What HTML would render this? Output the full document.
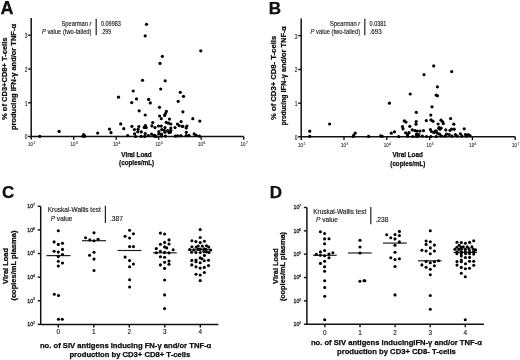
<!DOCTYPE html>
<html><head><meta charset="utf-8"><style>
html,body{margin:0;padding:0;background:#fff;}
svg{display:block;font-family:"Liberation Sans", sans-serif;filter:grayscale(1);}
text{fill:#111;}
</style></head><body>
<svg width="520" height="360" viewBox="0 0 520 360">
<rect width="520" height="360" fill="#fff"/>
<line x1="31.2" y1="18" x2="31.2" y2="139.6" stroke="#111" stroke-width="1.5"/>
<line x1="28.2" y1="136.4" x2="243.7" y2="136.4" stroke="#111" stroke-width="1.5"/>
<line x1="28.2" y1="35.2" x2="31.2" y2="35.2" stroke="#111" stroke-width="1.4"/>
<line x1="28.2" y1="69.1" x2="31.2" y2="69.1" stroke="#111" stroke-width="1.4"/>
<line x1="28.2" y1="102.8" x2="31.2" y2="102.8" stroke="#111" stroke-width="1.4"/>
<line x1="73.7" y1="136.4" x2="73.7" y2="139.7" stroke="#111" stroke-width="1.4"/>
<line x1="116.2" y1="136.4" x2="116.2" y2="139.7" stroke="#111" stroke-width="1.4"/>
<line x1="158.7" y1="136.4" x2="158.7" y2="139.7" stroke="#111" stroke-width="1.4"/>
<line x1="201.2" y1="136.4" x2="201.2" y2="139.7" stroke="#111" stroke-width="1.4"/>
<line x1="243.7" y1="136.4" x2="243.7" y2="139.7" stroke="#111" stroke-width="1.4"/>
<g transform="translate(27.4 38.1) scale(0.25)"><text x="0" y="0" font-size="25.20" text-anchor="end" textLength="10.80" lengthAdjust="spacingAndGlyphs" fill="#333" stroke="#333" stroke-width="0.60">3</text></g>
<g transform="translate(27.4 72.0) scale(0.25)"><text x="0" y="0" font-size="25.20" text-anchor="end" textLength="10.80" lengthAdjust="spacingAndGlyphs" fill="#333" stroke="#333" stroke-width="0.60">2</text></g>
<g transform="translate(27.4 105.7) scale(0.25)"><text x="0" y="0" font-size="25.20" text-anchor="end" textLength="10.80" lengthAdjust="spacingAndGlyphs" fill="#333" stroke="#333" stroke-width="0.60">1</text></g>
<g transform="translate(27.4 139.3) scale(0.25)"><text x="0" y="0" font-size="25.20" text-anchor="end" textLength="10.80" lengthAdjust="spacingAndGlyphs" fill="#333" stroke="#333" stroke-width="0.60">0</text></g>
<g transform="translate(28.1 146.1) scale(0.25)"><text x="0" y="0" font-size="24.00" textLength="20.00" lengthAdjust="spacingAndGlyphs" fill="#555" stroke="#555" stroke-width="0.48">10</text></g>
<g transform="translate(33.4 144.1) scale(0.25)"><text x="0" y="0" font-size="13.20" fill="#555" stroke="#555" stroke-width="0.34">2</text></g>
<g transform="translate(70.6 146.1) scale(0.25)"><text x="0" y="0" font-size="24.00" textLength="20.00" lengthAdjust="spacingAndGlyphs" fill="#555" stroke="#555" stroke-width="0.48">10</text></g>
<g transform="translate(75.9 144.1) scale(0.25)"><text x="0" y="0" font-size="13.20" fill="#555" stroke="#555" stroke-width="0.34">3</text></g>
<g transform="translate(113.1 146.1) scale(0.25)"><text x="0" y="0" font-size="24.00" textLength="20.00" lengthAdjust="spacingAndGlyphs" fill="#555" stroke="#555" stroke-width="0.48">10</text></g>
<g transform="translate(118.4 144.1) scale(0.25)"><text x="0" y="0" font-size="13.20" fill="#555" stroke="#555" stroke-width="0.34">4</text></g>
<g transform="translate(155.6 146.1) scale(0.25)"><text x="0" y="0" font-size="24.00" textLength="20.00" lengthAdjust="spacingAndGlyphs" fill="#555" stroke="#555" stroke-width="0.48">10</text></g>
<g transform="translate(160.9 144.1) scale(0.25)"><text x="0" y="0" font-size="13.20" fill="#555" stroke="#555" stroke-width="0.34">5</text></g>
<g transform="translate(198.1 146.1) scale(0.25)"><text x="0" y="0" font-size="24.00" textLength="20.00" lengthAdjust="spacingAndGlyphs" fill="#555" stroke="#555" stroke-width="0.48">10</text></g>
<g transform="translate(203.4 144.1) scale(0.25)"><text x="0" y="0" font-size="13.20" fill="#555" stroke="#555" stroke-width="0.34">6</text></g>
<g transform="translate(240.6 146.1) scale(0.25)"><text x="0" y="0" font-size="24.00" textLength="20.00" lengthAdjust="spacingAndGlyphs" fill="#555" stroke="#555" stroke-width="0.48">10</text></g>
<g transform="translate(245.9 144.1) scale(0.25)"><text x="0" y="0" font-size="13.20" fill="#555" stroke="#555" stroke-width="0.34">7</text></g>
<line x1="301.2" y1="18.4" x2="301.2" y2="140.0" stroke="#111" stroke-width="1.5"/>
<line x1="298.2" y1="136.8" x2="515.2" y2="136.8" stroke="#111" stroke-width="1.5"/>
<line x1="298.2" y1="35.6" x2="301.2" y2="35.6" stroke="#111" stroke-width="1.4"/>
<line x1="298.2" y1="69.5" x2="301.2" y2="69.5" stroke="#111" stroke-width="1.4"/>
<line x1="298.2" y1="103.2" x2="301.2" y2="103.2" stroke="#111" stroke-width="1.4"/>
<line x1="344.0" y1="136.8" x2="344.0" y2="140.1" stroke="#111" stroke-width="1.4"/>
<line x1="386.8" y1="136.8" x2="386.8" y2="140.1" stroke="#111" stroke-width="1.4"/>
<line x1="429.59999999999997" y1="136.8" x2="429.59999999999997" y2="140.1" stroke="#111" stroke-width="1.4"/>
<line x1="472.4" y1="136.8" x2="472.4" y2="140.1" stroke="#111" stroke-width="1.4"/>
<line x1="515.2" y1="136.8" x2="515.2" y2="140.1" stroke="#111" stroke-width="1.4"/>
<g transform="translate(297.4 38.5) scale(0.25)"><text x="0" y="0" font-size="25.20" text-anchor="end" textLength="10.80" lengthAdjust="spacingAndGlyphs" fill="#333" stroke="#333" stroke-width="0.60">3</text></g>
<g transform="translate(297.4 72.4) scale(0.25)"><text x="0" y="0" font-size="25.20" text-anchor="end" textLength="10.80" lengthAdjust="spacingAndGlyphs" fill="#333" stroke="#333" stroke-width="0.60">2</text></g>
<g transform="translate(297.4 106.1) scale(0.25)"><text x="0" y="0" font-size="25.20" text-anchor="end" textLength="10.80" lengthAdjust="spacingAndGlyphs" fill="#333" stroke="#333" stroke-width="0.60">1</text></g>
<g transform="translate(297.4 139.7) scale(0.25)"><text x="0" y="0" font-size="25.20" text-anchor="end" textLength="10.80" lengthAdjust="spacingAndGlyphs" fill="#333" stroke="#333" stroke-width="0.60">0</text></g>
<g transform="translate(298.1 146.5) scale(0.25)"><text x="0" y="0" font-size="24.00" textLength="20.00" lengthAdjust="spacingAndGlyphs" fill="#555" stroke="#555" stroke-width="0.48">10</text></g>
<g transform="translate(303.4 144.5) scale(0.25)"><text x="0" y="0" font-size="13.20" fill="#555" stroke="#555" stroke-width="0.34">2</text></g>
<g transform="translate(340.9 146.5) scale(0.25)"><text x="0" y="0" font-size="24.00" textLength="20.00" lengthAdjust="spacingAndGlyphs" fill="#555" stroke="#555" stroke-width="0.48">10</text></g>
<g transform="translate(346.2 144.5) scale(0.25)"><text x="0" y="0" font-size="13.20" fill="#555" stroke="#555" stroke-width="0.34">3</text></g>
<g transform="translate(383.7 146.5) scale(0.25)"><text x="0" y="0" font-size="24.00" textLength="20.00" lengthAdjust="spacingAndGlyphs" fill="#555" stroke="#555" stroke-width="0.48">10</text></g>
<g transform="translate(389.0 144.5) scale(0.25)"><text x="0" y="0" font-size="13.20" fill="#555" stroke="#555" stroke-width="0.34">4</text></g>
<g transform="translate(426.5 146.5) scale(0.25)"><text x="0" y="0" font-size="24.00" textLength="20.00" lengthAdjust="spacingAndGlyphs" fill="#555" stroke="#555" stroke-width="0.48">10</text></g>
<g transform="translate(431.8 144.5) scale(0.25)"><text x="0" y="0" font-size="13.20" fill="#555" stroke="#555" stroke-width="0.34">5</text></g>
<g transform="translate(469.3 146.5) scale(0.25)"><text x="0" y="0" font-size="24.00" textLength="20.00" lengthAdjust="spacingAndGlyphs" fill="#555" stroke="#555" stroke-width="0.48">10</text></g>
<g transform="translate(474.6 144.5) scale(0.25)"><text x="0" y="0" font-size="13.20" fill="#555" stroke="#555" stroke-width="0.34">6</text></g>
<g transform="translate(512.1 146.5) scale(0.25)"><text x="0" y="0" font-size="24.00" textLength="20.00" lengthAdjust="spacingAndGlyphs" fill="#555" stroke="#555" stroke-width="0.48">10</text></g>
<g transform="translate(517.4 144.5) scale(0.25)"><text x="0" y="0" font-size="13.20" fill="#555" stroke="#555" stroke-width="0.34">7</text></g>
<g transform="translate(0.5 13.9) scale(0.25)"><text x="0" y="0" font-size="72.00" font-weight="bold" fill="#000" stroke="#000" stroke-width="1.00">A</text></g>
<g transform="translate(268.8 13.7) scale(0.25)"><text x="0" y="0" font-size="68.00" font-weight="bold" fill="#000" stroke="#000" stroke-width="1.00">B</text></g>
<g transform="translate(7.3 120) rotate(-90) scale(0.25)"><text x="0" y="0" font-size="30.00" font-weight="bold" textLength="330.00" lengthAdjust="spacingAndGlyphs" fill="#000" stroke="#000" stroke-width="1.00">% of CD3+CD8+ T-cells</text></g>
<g transform="translate(16.1 130) rotate(-90) scale(0.25)"><text x="0" y="0" font-size="30.00" font-weight="bold" textLength="424.00" lengthAdjust="spacingAndGlyphs" fill="#000" stroke="#000" stroke-width="1.00">producing IFN-γ and/or TNF-α</text></g>
<g transform="translate(276.0 120) rotate(-90) scale(0.25)"><text x="0" y="0" font-size="30.00" font-weight="bold" textLength="336.80" lengthAdjust="spacingAndGlyphs" fill="#000" stroke="#000" stroke-width="1.00">% of CD3+ CD8- T-cells</text></g>
<g transform="translate(285.8 125.2) rotate(-90) scale(0.25)"><text x="0" y="0" font-size="28.80" font-weight="bold" textLength="122.00" lengthAdjust="spacingAndGlyphs" fill="#000" stroke="#000" stroke-width="1.00">producing</text></g>
<g transform="translate(286.0 92.6) rotate(-90) scale(0.25)"><text x="0" y="0" font-size="30.40" font-weight="bold" textLength="266.00" lengthAdjust="spacingAndGlyphs" fill="#000" stroke="#000" stroke-width="1.00">IFN-γ and/or TNF-α</text></g>
<g transform="translate(121.3 156.8) scale(0.25)"><text x="0" y="0" font-size="30.00" font-weight="bold" textLength="121.20" lengthAdjust="spacingAndGlyphs" fill="#000" stroke="#000" stroke-width="1.00">Viral Load</text></g>
<g transform="translate(119.1 165.1) scale(0.25)"><text x="0" y="0" font-size="30.00" font-weight="bold" textLength="140.40" lengthAdjust="spacingAndGlyphs" fill="#000" stroke="#000" stroke-width="1.00">(copies/mL)</text></g>
<g transform="translate(392.5 157.3) scale(0.25)"><text x="0" y="0" font-size="30.00" font-weight="bold" textLength="121.20" lengthAdjust="spacingAndGlyphs" fill="#000" stroke="#000" stroke-width="1.00">Viral Load</text></g>
<g transform="translate(390.29999999999995 165.6) scale(0.25)"><text x="0" y="0" font-size="30.00" font-weight="bold" textLength="140.40" lengthAdjust="spacingAndGlyphs" fill="#000" stroke="#000" stroke-width="1.00">(copies/mL)</text></g>
<g transform="translate(91.5 25.5) scale(0.25)"><text x="0" y="0" font-size="27.20" text-anchor="end" textLength="120.00" lengthAdjust="spacingAndGlyphs" fill="#333" stroke="#333" stroke-width="0.60">Spearman <tspan font-style="italic">r</tspan></text></g>
<g transform="translate(91.5 34.0) scale(0.25)"><text x="0" y="0" font-size="27.20" text-anchor="end" textLength="198.00" lengthAdjust="spacingAndGlyphs" fill="#333" stroke="#333" stroke-width="0.60"><tspan font-style="italic">P</tspan> value (two-tailed)</text></g>
<line x1="96.2" y1="18.8" x2="96.2" y2="35.3" stroke="#222" stroke-width="1.2"/>
<g transform="translate(101 25.5) scale(0.25)"><text x="0" y="0" font-size="27.20" textLength="79.20" lengthAdjust="spacingAndGlyphs" fill="#333" stroke="#333" stroke-width="0.60">0.09983</text></g>
<g transform="translate(101 34.0) scale(0.25)"><text x="0" y="0" font-size="27.20" textLength="40.00" lengthAdjust="spacingAndGlyphs" fill="#333" stroke="#333" stroke-width="0.60">.299</text></g>
<g transform="translate(360.1 25.5) scale(0.25)"><text x="0" y="0" font-size="27.20" text-anchor="end" textLength="120.00" lengthAdjust="spacingAndGlyphs" fill="#333" stroke="#333" stroke-width="0.60">Spearman <tspan font-style="italic">r</tspan></text></g>
<g transform="translate(360.1 34.0) scale(0.25)"><text x="0" y="0" font-size="27.20" text-anchor="end" textLength="198.00" lengthAdjust="spacingAndGlyphs" fill="#333" stroke="#333" stroke-width="0.60"><tspan font-style="italic">P</tspan> value (two-tailed)</text></g>
<line x1="364.8" y1="18.8" x2="364.8" y2="35.3" stroke="#222" stroke-width="1.2"/>
<g transform="translate(369.6 25.5) scale(0.25)"><text x="0" y="0" font-size="27.20" textLength="67.20" lengthAdjust="spacingAndGlyphs" fill="#333" stroke="#333" stroke-width="0.60">0.0381</text></g>
<g transform="translate(369.6 34.0) scale(0.25)"><text x="0" y="0" font-size="27.20" textLength="48.00" lengthAdjust="spacingAndGlyphs" fill="#333" stroke="#333" stroke-width="0.60">.693</text></g>
<line x1="40.7" y1="206.3" x2="40.7" y2="325.0" stroke="#111" stroke-width="1.5"/>
<line x1="40.7" y1="324.4" x2="218.4" y2="324.4" stroke="#111" stroke-width="1.5"/>
<line x1="37.7" y1="206.3" x2="40.7" y2="206.3" stroke="#111" stroke-width="1.4"/>
<g transform="translate(27.3 208.20000000000002) scale(0.25)"><text x="0" y="0" font-size="24.00" textLength="23.20" lengthAdjust="spacingAndGlyphs" fill="#222" stroke="#222" stroke-width="1.20">10</text></g>
<g transform="translate(32.9 206.0) scale(0.25)"><text x="0" y="0" font-size="14.00" fill="#222" stroke="#222" stroke-width="0.84">7</text></g>
<line x1="37.7" y1="229.92000000000002" x2="40.7" y2="229.92000000000002" stroke="#111" stroke-width="1.4"/>
<g transform="translate(27.3 231.82000000000002) scale(0.25)"><text x="0" y="0" font-size="24.00" textLength="23.20" lengthAdjust="spacingAndGlyphs" fill="#222" stroke="#222" stroke-width="1.20">10</text></g>
<g transform="translate(32.9 229.62) scale(0.25)"><text x="0" y="0" font-size="14.00" fill="#222" stroke="#222" stroke-width="0.84">6</text></g>
<line x1="37.7" y1="253.54" x2="40.7" y2="253.54" stroke="#111" stroke-width="1.4"/>
<g transform="translate(27.3 255.44) scale(0.25)"><text x="0" y="0" font-size="24.00" textLength="23.20" lengthAdjust="spacingAndGlyphs" fill="#222" stroke="#222" stroke-width="1.20">10</text></g>
<g transform="translate(32.9 253.24) scale(0.25)"><text x="0" y="0" font-size="14.00" fill="#222" stroke="#222" stroke-width="0.84">5</text></g>
<line x1="37.7" y1="277.15999999999997" x2="40.7" y2="277.15999999999997" stroke="#111" stroke-width="1.4"/>
<g transform="translate(27.3 279.05999999999995) scale(0.25)"><text x="0" y="0" font-size="24.00" textLength="23.20" lengthAdjust="spacingAndGlyphs" fill="#222" stroke="#222" stroke-width="1.20">10</text></g>
<g transform="translate(32.9 276.86) scale(0.25)"><text x="0" y="0" font-size="14.00" fill="#222" stroke="#222" stroke-width="0.84">4</text></g>
<line x1="37.7" y1="300.78" x2="40.7" y2="300.78" stroke="#111" stroke-width="1.4"/>
<g transform="translate(27.3 302.67999999999995) scale(0.25)"><text x="0" y="0" font-size="24.00" textLength="23.20" lengthAdjust="spacingAndGlyphs" fill="#222" stroke="#222" stroke-width="1.20">10</text></g>
<g transform="translate(32.9 300.48) scale(0.25)"><text x="0" y="0" font-size="14.00" fill="#222" stroke="#222" stroke-width="0.84">3</text></g>
<line x1="37.7" y1="324.4" x2="40.7" y2="324.4" stroke="#111" stroke-width="1.4"/>
<g transform="translate(27.3 326.29999999999995) scale(0.25)"><text x="0" y="0" font-size="24.00" textLength="23.20" lengthAdjust="spacingAndGlyphs" fill="#222" stroke="#222" stroke-width="1.20">10</text></g>
<g transform="translate(32.9 324.1) scale(0.25)"><text x="0" y="0" font-size="14.00" fill="#222" stroke="#222" stroke-width="0.84">2</text></g>
<line x1="58.3" y1="324.4" x2="58.3" y2="327.4" stroke="#111" stroke-width="1.4"/>
<g transform="translate(58.3 334.0) scale(0.25)"><text x="0" y="0" font-size="25.60" text-anchor="middle" fill="#333" stroke="#333" stroke-width="0.60">0</text></g>
<line x1="93.8" y1="324.4" x2="93.8" y2="327.4" stroke="#111" stroke-width="1.4"/>
<g transform="translate(93.8 334.0) scale(0.25)"><text x="0" y="0" font-size="25.60" text-anchor="middle" fill="#333" stroke="#333" stroke-width="0.60">1</text></g>
<line x1="129.3" y1="324.4" x2="129.3" y2="327.4" stroke="#111" stroke-width="1.4"/>
<g transform="translate(129.3 334.0) scale(0.25)"><text x="0" y="0" font-size="25.60" text-anchor="middle" fill="#333" stroke="#333" stroke-width="0.60">2</text></g>
<line x1="164.8" y1="324.4" x2="164.8" y2="327.4" stroke="#111" stroke-width="1.4"/>
<g transform="translate(164.8 334.0) scale(0.25)"><text x="0" y="0" font-size="25.60" text-anchor="middle" fill="#333" stroke="#333" stroke-width="0.60">3</text></g>
<line x1="200.3" y1="324.4" x2="200.3" y2="327.4" stroke="#111" stroke-width="1.4"/>
<g transform="translate(200.3 334.0) scale(0.25)"><text x="0" y="0" font-size="25.60" text-anchor="middle" fill="#333" stroke="#333" stroke-width="0.60">4</text></g>
<line x1="306.9" y1="207.5" x2="306.9" y2="324.8" stroke="#111" stroke-width="1.5"/>
<line x1="306.9" y1="324.2" x2="483.9" y2="324.2" stroke="#111" stroke-width="1.5"/>
<line x1="303.9" y1="207.5" x2="306.9" y2="207.5" stroke="#111" stroke-width="1.4"/>
<g transform="translate(293.5 209.4) scale(0.25)"><text x="0" y="0" font-size="24.00" textLength="23.20" lengthAdjust="spacingAndGlyphs" fill="#222" stroke="#222" stroke-width="1.20">10</text></g>
<g transform="translate(299.1 207.2) scale(0.25)"><text x="0" y="0" font-size="14.00" fill="#222" stroke="#222" stroke-width="0.84">7</text></g>
<line x1="303.9" y1="230.84" x2="306.9" y2="230.84" stroke="#111" stroke-width="1.4"/>
<g transform="translate(293.5 232.74) scale(0.25)"><text x="0" y="0" font-size="24.00" textLength="23.20" lengthAdjust="spacingAndGlyphs" fill="#222" stroke="#222" stroke-width="1.20">10</text></g>
<g transform="translate(299.1 230.54) scale(0.25)"><text x="0" y="0" font-size="14.00" fill="#222" stroke="#222" stroke-width="0.84">6</text></g>
<line x1="303.9" y1="254.18" x2="306.9" y2="254.18" stroke="#111" stroke-width="1.4"/>
<g transform="translate(293.5 256.08) scale(0.25)"><text x="0" y="0" font-size="24.00" textLength="23.20" lengthAdjust="spacingAndGlyphs" fill="#222" stroke="#222" stroke-width="1.20">10</text></g>
<g transform="translate(299.1 253.88) scale(0.25)"><text x="0" y="0" font-size="14.00" fill="#222" stroke="#222" stroke-width="0.84">5</text></g>
<line x1="303.9" y1="277.52" x2="306.9" y2="277.52" stroke="#111" stroke-width="1.4"/>
<g transform="translate(293.5 279.41999999999996) scale(0.25)"><text x="0" y="0" font-size="24.00" textLength="23.20" lengthAdjust="spacingAndGlyphs" fill="#222" stroke="#222" stroke-width="1.20">10</text></g>
<g transform="translate(299.1 277.22) scale(0.25)"><text x="0" y="0" font-size="14.00" fill="#222" stroke="#222" stroke-width="0.84">4</text></g>
<line x1="303.9" y1="300.86" x2="306.9" y2="300.86" stroke="#111" stroke-width="1.4"/>
<g transform="translate(293.5 302.76) scale(0.25)"><text x="0" y="0" font-size="24.00" textLength="23.20" lengthAdjust="spacingAndGlyphs" fill="#222" stroke="#222" stroke-width="1.20">10</text></g>
<g transform="translate(299.1 300.56) scale(0.25)"><text x="0" y="0" font-size="14.00" fill="#222" stroke="#222" stroke-width="0.84">3</text></g>
<line x1="303.9" y1="324.2" x2="306.9" y2="324.2" stroke="#111" stroke-width="1.4"/>
<g transform="translate(293.5 326.09999999999997) scale(0.25)"><text x="0" y="0" font-size="24.00" textLength="23.20" lengthAdjust="spacingAndGlyphs" fill="#222" stroke="#222" stroke-width="1.20">10</text></g>
<g transform="translate(299.1 323.9) scale(0.25)"><text x="0" y="0" font-size="14.00" fill="#222" stroke="#222" stroke-width="0.84">2</text></g>
<line x1="324.9" y1="324.2" x2="324.9" y2="327.2" stroke="#111" stroke-width="1.4"/>
<g transform="translate(324.9 334.6) scale(0.25)"><text x="0" y="0" font-size="25.60" text-anchor="middle" fill="#333" stroke="#333" stroke-width="0.60">0</text></g>
<line x1="360.0" y1="324.2" x2="360.0" y2="327.2" stroke="#111" stroke-width="1.4"/>
<g transform="translate(360.0 334.6) scale(0.25)"><text x="0" y="0" font-size="25.60" text-anchor="middle" fill="#333" stroke="#333" stroke-width="0.60">1</text></g>
<line x1="395.09999999999997" y1="324.2" x2="395.09999999999997" y2="327.2" stroke="#111" stroke-width="1.4"/>
<g transform="translate(395.09999999999997 334.6) scale(0.25)"><text x="0" y="0" font-size="25.60" text-anchor="middle" fill="#333" stroke="#333" stroke-width="0.60">2</text></g>
<line x1="430.2" y1="324.2" x2="430.2" y2="327.2" stroke="#111" stroke-width="1.4"/>
<g transform="translate(430.2 334.6) scale(0.25)"><text x="0" y="0" font-size="25.60" text-anchor="middle" fill="#333" stroke="#333" stroke-width="0.60">3</text></g>
<line x1="465.29999999999995" y1="324.2" x2="465.29999999999995" y2="327.2" stroke="#111" stroke-width="1.4"/>
<g transform="translate(465.29999999999995 334.6) scale(0.25)"><text x="0" y="0" font-size="25.60" text-anchor="middle" fill="#333" stroke="#333" stroke-width="0.60">4</text></g>
<g transform="translate(2.1 198) scale(0.25)"><text x="0" y="0" font-size="68.00" font-weight="bold" fill="#000" stroke="#000" stroke-width="1.00">C</text></g>
<g transform="translate(269.8 198.1) scale(0.25)"><text x="0" y="0" font-size="68.00" font-weight="bold" fill="#000" stroke="#000" stroke-width="1.00">D</text></g>
<g transform="translate(7.9 283.9) rotate(-90) scale(0.25)"><text x="0" y="0" font-size="30.40" font-weight="bold" textLength="144.00" lengthAdjust="spacingAndGlyphs" fill="#000" stroke="#000" stroke-width="1.00">Viral Load</text></g>
<g transform="translate(16.2 300.6) rotate(-90) scale(0.25)"><text x="0" y="0" font-size="30.40" font-weight="bold" textLength="280.00" lengthAdjust="spacingAndGlyphs" fill="#000" stroke="#000" stroke-width="1.00">(copies/mL plasma)</text></g>
<g transform="translate(277.8 283.9) rotate(-90) scale(0.25)"><text x="0" y="0" font-size="30.40" font-weight="bold" textLength="142.40" lengthAdjust="spacingAndGlyphs" fill="#000" stroke="#000" stroke-width="1.00">Viral Load</text></g>
<g transform="translate(285.4 301.1) rotate(-90) scale(0.25)"><text x="0" y="0" font-size="30.40" font-weight="bold" textLength="276.80" lengthAdjust="spacingAndGlyphs" fill="#000" stroke="#000" stroke-width="1.00">(copies/mL plasma)</text></g>
<g transform="translate(39.9 348.2) scale(0.25)"><text x="0" y="0" font-size="30.00" font-weight="bold" textLength="685.60" lengthAdjust="spacingAndGlyphs" fill="#000" stroke="#000" stroke-width="1.00">no. of SIV antigens inducing FN-γ and/or TNF-α</text></g>
<g transform="translate(69.4 357.0) scale(0.25)"><text x="0" y="0" font-size="30.00" font-weight="bold" textLength="483.20" lengthAdjust="spacingAndGlyphs" fill="#000" stroke="#000" stroke-width="1.00">production by CD3+ CD8+ T-cells</text></g>
<g transform="translate(310.9 344.8) scale(0.25)"><text x="0" y="0" font-size="30.00" font-weight="bold" textLength="684.00" lengthAdjust="spacingAndGlyphs" fill="#000" stroke="#000" stroke-width="1.00">no. of SIV antigens inducingIFN-γ and/or TNF-α</text></g>
<g transform="translate(337.0 353.7) scale(0.25)"><text x="0" y="0" font-size="30.00" font-weight="bold" textLength="475.20" lengthAdjust="spacingAndGlyphs" fill="#000" stroke="#000" stroke-width="1.00">production by CD3+ CD8- T-cells</text></g>
<g transform="translate(47.8 212.3) scale(0.25)"><text x="0" y="0" font-size="26.40" textLength="212.00" lengthAdjust="spacingAndGlyphs" fill="#333" stroke="#333" stroke-width="0.60">Kruskal-Wallis test</text></g>
<g transform="translate(50.7 220.8) scale(0.25)"><text x="0" y="0" font-size="26.40" textLength="87.20" lengthAdjust="spacingAndGlyphs" fill="#333" stroke="#333" stroke-width="0.60"><tspan font-style="italic">P</tspan> value</text></g>
<line x1="105.4" y1="205.8" x2="105.4" y2="222.9" stroke="#222" stroke-width="1.2"/>
<g transform="translate(110 220.8) scale(0.25)"><text x="0" y="0" font-size="26.40" textLength="52.00" lengthAdjust="spacingAndGlyphs" fill="#333" stroke="#333" stroke-width="0.60">.387</text></g>
<g transform="translate(313.2 213.60000000000002) scale(0.25)"><text x="0" y="0" font-size="26.40" textLength="212.00" lengthAdjust="spacingAndGlyphs" fill="#333" stroke="#333" stroke-width="0.60">Kruskal-Wallis test</text></g>
<g transform="translate(316.09999999999997 222.10000000000002) scale(0.25)"><text x="0" y="0" font-size="26.40" textLength="87.20" lengthAdjust="spacingAndGlyphs" fill="#333" stroke="#333" stroke-width="0.60"><tspan font-style="italic">P</tspan> value</text></g>
<line x1="370.79999999999995" y1="207.10000000000002" x2="370.79999999999995" y2="224.20000000000002" stroke="#222" stroke-width="1.2"/>
<g transform="translate(375.4 222.10000000000002) scale(0.25)"><text x="0" y="0" font-size="26.40" textLength="52.00" lengthAdjust="spacingAndGlyphs" fill="#333" stroke="#333" stroke-width="0.60">.238</text></g>
<circle cx="146.5" cy="24.3" r="1.6"/>
<circle cx="145.2" cy="35.8" r="1.6"/>
<circle cx="200.8" cy="50.8" r="1.6"/>
<circle cx="162.4" cy="56.3" r="1.6"/>
<circle cx="160.0" cy="63.4" r="1.6"/>
<circle cx="142.5" cy="80.3" r="1.6"/>
<circle cx="165.2" cy="80.8" r="1.6"/>
<circle cx="160.7" cy="89.0" r="1.6"/>
<circle cx="133.2" cy="91.0" r="1.6"/>
<circle cx="118.5" cy="97.2" r="1.6"/>
<circle cx="136.5" cy="98.9" r="1.6"/>
<circle cx="131.7" cy="102.6" r="1.6"/>
<circle cx="148.6" cy="99.4" r="1.6"/>
<circle cx="150.3" cy="102.9" r="1.6"/>
<circle cx="180.3" cy="92.3" r="1.6"/>
<circle cx="183.5" cy="96.3" r="1.6"/>
<circle cx="178.2" cy="101.3" r="1.6"/>
<circle cx="159.5" cy="107.3" r="1.6"/>
<circle cx="139.2" cy="110.8" r="1.6"/>
<circle cx="145.2" cy="115.0" r="1.6"/>
<circle cx="166.4" cy="111.4" r="1.6"/>
<circle cx="165.4" cy="113.5" r="1.6"/>
<circle cx="164.6" cy="115.4" r="1.6"/>
<circle cx="159.6" cy="116.0" r="1.6"/>
<circle cx="161.3" cy="118.7" r="1.6"/>
<circle cx="169.5" cy="119.1" r="1.6"/>
<circle cx="182.9" cy="111.8" r="1.6"/>
<circle cx="192.8" cy="118.7" r="1.6"/>
<circle cx="199.8" cy="121.1" r="1.6"/>
<circle cx="181.1" cy="121.6" r="1.6"/>
<circle cx="39.8" cy="136.3" r="1.6"/>
<circle cx="59.1" cy="131.4" r="1.6"/>
<circle cx="82.8" cy="136.2" r="1.6"/>
<circle cx="84.6" cy="136.2" r="1.6"/>
<circle cx="83.7" cy="134.6" r="1.6"/>
<circle cx="97.7" cy="133.1" r="1.6"/>
<circle cx="109.5" cy="129.1" r="1.6"/>
<circle cx="111.0" cy="132.7" r="1.6"/>
<circle cx="120.7" cy="123.9" r="1.6"/>
<circle cx="123.8" cy="128.7" r="1.6"/>
<circle cx="131.9" cy="126.3" r="1.6"/>
<circle cx="134.4" cy="129.6" r="1.6"/>
<circle cx="138.8" cy="126.5" r="1.6"/>
<circle cx="138.1" cy="129.3" r="1.6"/>
<circle cx="137.8" cy="131.8" r="1.6"/>
<circle cx="141.3" cy="131.9" r="1.6"/>
<circle cx="134.6" cy="133.8" r="1.6"/>
<circle cx="127.7" cy="135.6" r="1.6"/>
<circle cx="135.7" cy="136.5" r="1.6"/>
<circle cx="145.4" cy="125.6" r="1.6"/>
<circle cx="144.2" cy="127.4" r="1.6"/>
<circle cx="146.2" cy="127.6" r="1.6"/>
<circle cx="145.2" cy="133.5" r="1.6"/>
<circle cx="141.1" cy="136.4" r="1.6"/>
<circle cx="144.7" cy="136.4" r="1.6"/>
<circle cx="148.2" cy="135.6" r="1.6"/>
<circle cx="151.5" cy="134.2" r="1.6"/>
<circle cx="152.7" cy="122.6" r="1.6"/>
<circle cx="151.9" cy="125.9" r="1.6"/>
<circle cx="155.0" cy="127.6" r="1.6"/>
<circle cx="158.5" cy="126.0" r="1.6"/>
<circle cx="158.9" cy="131.5" r="1.6"/>
<circle cx="153.8" cy="135.8" r="1.6"/>
<circle cx="155.4" cy="136.5" r="1.6"/>
<circle cx="168.5" cy="123.2" r="1.6"/>
<circle cx="170.8" cy="124.0" r="1.6"/>
<circle cx="166.2" cy="122.3" r="1.6"/>
<circle cx="177.4" cy="124.0" r="1.6"/>
<circle cx="179.2" cy="125.7" r="1.6"/>
<circle cx="182.3" cy="126.4" r="1.6"/>
<circle cx="186.9" cy="126.1" r="1.6"/>
<circle cx="186.2" cy="127.9" r="1.6"/>
<circle cx="161.2" cy="126.1" r="1.6"/>
<circle cx="165.0" cy="127.6" r="1.6"/>
<circle cx="170.8" cy="128.0" r="1.6"/>
<circle cx="175.0" cy="127.6" r="1.6"/>
<circle cx="164.2" cy="130.3" r="1.6"/>
<circle cx="167.7" cy="130.7" r="1.6"/>
<circle cx="170.8" cy="130.3" r="1.6"/>
<circle cx="165.0" cy="132.2" r="1.6"/>
<circle cx="170.4" cy="132.2" r="1.6"/>
<circle cx="186.3" cy="132.3" r="1.6"/>
<circle cx="158.8" cy="133.8" r="1.6"/>
<circle cx="161.5" cy="134.2" r="1.6"/>
<circle cx="154.6" cy="135.3" r="1.6"/>
<circle cx="161.5" cy="136.1" r="1.6"/>
<circle cx="165.4" cy="136.1" r="1.6"/>
<circle cx="175.4" cy="136.1" r="1.6"/>
<circle cx="177.7" cy="135.8" r="1.6"/>
<circle cx="180.9" cy="135.7" r="1.6"/>
<circle cx="186.2" cy="135.7" r="1.6"/>
<circle cx="188.9" cy="135.3" r="1.6"/>
<circle cx="194.2" cy="133.9" r="1.6"/>
<circle cx="196.1" cy="135.3" r="1.6"/>
<circle cx="199.4" cy="136.1" r="1.6"/>
<circle cx="182.8" cy="126.3" r="1.6"/>
<circle cx="161.8" cy="129.5" r="1.6"/>
<circle cx="156.3" cy="136.5" r="1.6"/>
<circle cx="169.0" cy="132.6" r="1.6"/>
<circle cx="433.7" cy="65.9" r="1.6"/>
<circle cx="451.7" cy="71.6" r="1.6"/>
<circle cx="424.0" cy="74.7" r="1.6"/>
<circle cx="437.4" cy="86.8" r="1.6"/>
<circle cx="410.2" cy="94.0" r="1.6"/>
<circle cx="436.1" cy="95.1" r="1.6"/>
<circle cx="437.5" cy="95.8" r="1.6"/>
<circle cx="389.4" cy="103.2" r="1.6"/>
<circle cx="432.0" cy="106.8" r="1.6"/>
<circle cx="309.7" cy="131.2" r="1.6"/>
<circle cx="309.7" cy="136.3" r="1.6"/>
<circle cx="329.6" cy="124.0" r="1.6"/>
<circle cx="355.2" cy="133.0" r="1.6"/>
<circle cx="353.8" cy="135.0" r="1.6"/>
<circle cx="353.2" cy="136.3" r="1.6"/>
<circle cx="368.6" cy="136.4" r="1.6"/>
<circle cx="380.7" cy="135.9" r="1.6"/>
<circle cx="382.2" cy="136.3" r="1.6"/>
<circle cx="391.3" cy="133.2" r="1.6"/>
<circle cx="394.5" cy="131.8" r="1.6"/>
<circle cx="398.7" cy="136.6" r="1.6"/>
<circle cx="404.3" cy="120.9" r="1.6"/>
<circle cx="406.0" cy="122.1" r="1.6"/>
<circle cx="402.5" cy="126.6" r="1.6"/>
<circle cx="403.0" cy="128.8" r="1.6"/>
<circle cx="405.7" cy="132.8" r="1.6"/>
<circle cx="407.7" cy="136.2" r="1.6"/>
<circle cx="409.8" cy="126.3" r="1.6"/>
<circle cx="409.0" cy="132.7" r="1.6"/>
<circle cx="416.3" cy="112.3" r="1.6"/>
<circle cx="430.8" cy="115.1" r="1.6"/>
<circle cx="416.2" cy="121.6" r="1.6"/>
<circle cx="416.0" cy="124.2" r="1.6"/>
<circle cx="426.3" cy="120.6" r="1.6"/>
<circle cx="431.0" cy="119.9" r="1.6"/>
<circle cx="433.0" cy="121.2" r="1.6"/>
<circle cx="438.1" cy="124.0" r="1.6"/>
<circle cx="412.3" cy="129.9" r="1.6"/>
<circle cx="415.0" cy="130.7" r="1.6"/>
<circle cx="417.3" cy="131.1" r="1.6"/>
<circle cx="420.0" cy="131.1" r="1.6"/>
<circle cx="423.5" cy="130.7" r="1.6"/>
<circle cx="430.4" cy="129.5" r="1.6"/>
<circle cx="431.5" cy="131.5" r="1.6"/>
<circle cx="435.4" cy="131.1" r="1.6"/>
<circle cx="438.8" cy="128.4" r="1.6"/>
<circle cx="407.7" cy="134.5" r="1.6"/>
<circle cx="416.5" cy="134.2" r="1.6"/>
<circle cx="418.8" cy="134.5" r="1.6"/>
<circle cx="433.8" cy="132.6" r="1.6"/>
<circle cx="437.3" cy="133.2" r="1.6"/>
<circle cx="412.7" cy="136.5" r="1.6"/>
<circle cx="416.2" cy="136.3" r="1.6"/>
<circle cx="418.1" cy="136.1" r="1.6"/>
<circle cx="422.3" cy="136.1" r="1.6"/>
<circle cx="426.5" cy="136.5" r="1.6"/>
<circle cx="430.8" cy="136.5" r="1.6"/>
<circle cx="436.2" cy="136.5" r="1.6"/>
<circle cx="450.6" cy="118.6" r="1.6"/>
<circle cx="441.0" cy="120.2" r="1.6"/>
<circle cx="442.7" cy="121.8" r="1.6"/>
<circle cx="443.3" cy="123.6" r="1.6"/>
<circle cx="453.8" cy="124.2" r="1.6"/>
<circle cx="439.2" cy="127.6" r="1.6"/>
<circle cx="441.2" cy="128.0" r="1.6"/>
<circle cx="440.0" cy="129.2" r="1.6"/>
<circle cx="445.8" cy="129.9" r="1.6"/>
<circle cx="450.0" cy="130.3" r="1.6"/>
<circle cx="451.5" cy="129.2" r="1.6"/>
<circle cx="454.2" cy="129.2" r="1.6"/>
<circle cx="464.2" cy="128.8" r="1.6"/>
<circle cx="436.2" cy="131.1" r="1.6"/>
<circle cx="439.6" cy="134.2" r="1.6"/>
<circle cx="446.5" cy="134.2" r="1.6"/>
<circle cx="449.2" cy="134.5" r="1.6"/>
<circle cx="455.4" cy="134.5" r="1.6"/>
<circle cx="460.4" cy="133.8" r="1.6"/>
<circle cx="465.4" cy="134.5" r="1.6"/>
<circle cx="468.1" cy="134.5" r="1.6"/>
<circle cx="441.5" cy="136.1" r="1.6"/>
<circle cx="445.0" cy="136.1" r="1.6"/>
<circle cx="451.9" cy="136.1" r="1.6"/>
<circle cx="457.3" cy="136.1" r="1.6"/>
<circle cx="461.9" cy="136.1" r="1.6"/>
<circle cx="466.5" cy="136.1" r="1.6"/>
<circle cx="470.0" cy="135.7" r="1.6"/>
<line x1="46.5" y1="255.6" x2="70.5" y2="255.6" stroke="#222" stroke-width="1.2"/>
<circle cx="58.3" cy="230.7" r="1.55"/>
<circle cx="54.1" cy="241.9" r="1.55"/>
<circle cx="58.3" cy="244.4" r="1.55"/>
<circle cx="62.5" cy="243.3" r="1.55"/>
<circle cx="62.5" cy="249.4" r="1.55"/>
<circle cx="54.1" cy="251.2" r="1.55"/>
<circle cx="58.3" cy="252.1" r="1.55"/>
<circle cx="62.5" cy="254.5" r="1.55"/>
<circle cx="58.3" cy="256.6" r="1.55"/>
<circle cx="58.3" cy="261.3" r="1.55"/>
<circle cx="62.5" cy="263.0" r="1.55"/>
<circle cx="58.3" cy="266.0" r="1.55"/>
<circle cx="54.3" cy="294.2" r="1.55"/>
<circle cx="58.5" cy="295.5" r="1.55"/>
<circle cx="58.5" cy="319.2" r="1.55"/>
<circle cx="62.3" cy="319.2" r="1.55"/>
<line x1="82" y1="240.7" x2="106" y2="240.7" stroke="#222" stroke-width="1.2"/>
<circle cx="94.0" cy="232.7" r="1.55"/>
<circle cx="85.6" cy="237.8" r="1.55"/>
<circle cx="89.8" cy="239.9" r="1.55"/>
<circle cx="94.0" cy="240.8" r="1.55"/>
<circle cx="98.1" cy="239.3" r="1.55"/>
<circle cx="94.0" cy="252.3" r="1.55"/>
<circle cx="89.6" cy="255.3" r="1.55"/>
<circle cx="94.0" cy="259.1" r="1.55"/>
<circle cx="94.0" cy="270.5" r="1.55"/>
<line x1="117.5" y1="250.5" x2="141.4" y2="250.5" stroke="#222" stroke-width="1.2"/>
<circle cx="129.6" cy="230.3" r="1.55"/>
<circle cx="133.4" cy="233.8" r="1.55"/>
<circle cx="125.1" cy="236.3" r="1.55"/>
<circle cx="129.6" cy="238.0" r="1.55"/>
<circle cx="129.6" cy="246.6" r="1.55"/>
<circle cx="133.4" cy="246.6" r="1.55"/>
<circle cx="125.1" cy="257.1" r="1.55"/>
<circle cx="129.6" cy="260.6" r="1.55"/>
<circle cx="133.4" cy="264.0" r="1.55"/>
<circle cx="129.6" cy="266.8" r="1.55"/>
<circle cx="129.6" cy="279.8" r="1.55"/>
<circle cx="129.6" cy="287.0" r="1.55"/>
<line x1="153" y1="252.8" x2="176.8" y2="252.8" stroke="#222" stroke-width="1.2"/>
<circle cx="160.4" cy="233.1" r="1.55"/>
<circle cx="164.6" cy="234.0" r="1.55"/>
<circle cx="169.0" cy="239.9" r="1.55"/>
<circle cx="164.6" cy="242.4" r="1.55"/>
<circle cx="169.0" cy="244.0" r="1.55"/>
<circle cx="160.4" cy="244.2" r="1.55"/>
<circle cx="164.6" cy="246.9" r="1.55"/>
<circle cx="166.7" cy="247.9" r="1.55"/>
<circle cx="156.3" cy="248.6" r="1.55"/>
<circle cx="173.2" cy="249.7" r="1.55"/>
<circle cx="160.4" cy="251.4" r="1.55"/>
<circle cx="156.3" cy="252.8" r="1.55"/>
<circle cx="164.6" cy="252.4" r="1.55"/>
<circle cx="169.0" cy="252.9" r="1.55"/>
<circle cx="160.4" cy="256.7" r="1.55"/>
<circle cx="164.6" cy="257.2" r="1.55"/>
<circle cx="164.6" cy="262.2" r="1.55"/>
<circle cx="169.0" cy="261.1" r="1.55"/>
<circle cx="169.0" cy="264.2" r="1.55"/>
<circle cx="160.4" cy="264.9" r="1.55"/>
<circle cx="164.6" cy="268.4" r="1.55"/>
<circle cx="164.6" cy="280.0" r="1.55"/>
<circle cx="164.6" cy="294.9" r="1.55"/>
<circle cx="164.6" cy="308.6" r="1.55"/>
<line x1="188" y1="249.8" x2="212" y2="249.8" stroke="#222" stroke-width="1.2"/>
<circle cx="200.2" cy="229.6" r="1.55"/>
<circle cx="200.2" cy="237.5" r="1.55"/>
<circle cx="191.9" cy="240.8" r="1.55"/>
<circle cx="195.9" cy="241.6" r="1.55"/>
<circle cx="200.2" cy="242.6" r="1.55"/>
<circle cx="204.4" cy="241.2" r="1.55"/>
<circle cx="191.9" cy="246.8" r="1.55"/>
<circle cx="196.1" cy="247.1" r="1.55"/>
<circle cx="198.2" cy="246.1" r="1.55"/>
<circle cx="202.3" cy="246.0" r="1.55"/>
<circle cx="206.5" cy="245.8" r="1.55"/>
<circle cx="208.7" cy="247.1" r="1.55"/>
<circle cx="189.7" cy="249.6" r="1.55"/>
<circle cx="193.9" cy="249.9" r="1.55"/>
<circle cx="198.1" cy="249.4" r="1.55"/>
<circle cx="200.3" cy="249.1" r="1.55"/>
<circle cx="203.9" cy="248.9" r="1.55"/>
<circle cx="205.9" cy="249.2" r="1.55"/>
<circle cx="210.7" cy="250.0" r="1.55"/>
<circle cx="191.6" cy="252.2" r="1.55"/>
<circle cx="195.9" cy="252.5" r="1.55"/>
<circle cx="200.2" cy="252.5" r="1.55"/>
<circle cx="203.9" cy="251.6" r="1.55"/>
<circle cx="206.5" cy="251.9" r="1.55"/>
<circle cx="209.0" cy="252.5" r="1.55"/>
<circle cx="204.4" cy="255.4" r="1.55"/>
<circle cx="200.2" cy="257.9" r="1.55"/>
<circle cx="202.0" cy="258.8" r="1.55"/>
<circle cx="191.8" cy="260.4" r="1.55"/>
<circle cx="196.0" cy="260.0" r="1.55"/>
<circle cx="196.0" cy="261.7" r="1.55"/>
<circle cx="204.3" cy="260.8" r="1.55"/>
<circle cx="208.5" cy="260.3" r="1.55"/>
<circle cx="200.2" cy="262.7" r="1.55"/>
<circle cx="191.8" cy="264.9" r="1.55"/>
<circle cx="196.0" cy="266.7" r="1.55"/>
<circle cx="200.2" cy="268.1" r="1.55"/>
<circle cx="204.3" cy="267.4" r="1.55"/>
<circle cx="208.5" cy="265.6" r="1.55"/>
<circle cx="196.0" cy="274.2" r="1.55"/>
<circle cx="200.2" cy="275.0" r="1.55"/>
<circle cx="204.3" cy="272.5" r="1.55"/>
<circle cx="200.2" cy="280.6" r="1.55"/>
<line x1="313" y1="255.3" x2="336.7" y2="255.3" stroke="#222" stroke-width="1.2"/>
<circle cx="320.4" cy="231.7" r="1.55"/>
<circle cx="324.6" cy="233.5" r="1.55"/>
<circle cx="324.6" cy="238.9" r="1.55"/>
<circle cx="329.0" cy="238.7" r="1.55"/>
<circle cx="324.6" cy="243.8" r="1.55"/>
<circle cx="324.6" cy="250.5" r="1.55"/>
<circle cx="320.4" cy="251.9" r="1.55"/>
<circle cx="316.3" cy="254.2" r="1.55"/>
<circle cx="320.4" cy="255.3" r="1.55"/>
<circle cx="324.6" cy="255.8" r="1.55"/>
<circle cx="329.0" cy="254.0" r="1.55"/>
<circle cx="332.9" cy="252.8" r="1.55"/>
<circle cx="329.0" cy="257.8" r="1.55"/>
<circle cx="324.6" cy="261.3" r="1.55"/>
<circle cx="320.4" cy="263.4" r="1.55"/>
<circle cx="324.6" cy="266.7" r="1.55"/>
<circle cx="324.6" cy="271.3" r="1.55"/>
<circle cx="324.7" cy="280.8" r="1.55"/>
<circle cx="324.7" cy="287.5" r="1.55"/>
<circle cx="324.7" cy="296.2" r="1.55"/>
<circle cx="324.7" cy="319.7" r="1.55"/>
<line x1="348" y1="253.0" x2="371.7" y2="253.0" stroke="#222" stroke-width="1.2"/>
<circle cx="360.0" cy="240.3" r="1.55"/>
<circle cx="360.0" cy="247.0" r="1.55"/>
<circle cx="360.0" cy="253.0" r="1.55"/>
<circle cx="359.9" cy="281.2" r="1.55"/>
<circle cx="364.0" cy="280.7" r="1.55"/>
<circle cx="364.8" cy="280.7" r="1.55"/>
<line x1="383" y1="243.1" x2="406.7" y2="243.1" stroke="#222" stroke-width="1.2"/>
<circle cx="399.4" cy="231.4" r="1.55"/>
<circle cx="386.7" cy="234.8" r="1.55"/>
<circle cx="395.0" cy="234.5" r="1.55"/>
<circle cx="399.4" cy="235.5" r="1.55"/>
<circle cx="390.8" cy="237.7" r="1.55"/>
<circle cx="395.0" cy="238.9" r="1.55"/>
<circle cx="399.4" cy="241.9" r="1.55"/>
<circle cx="395.0" cy="245.3" r="1.55"/>
<circle cx="395.0" cy="252.3" r="1.55"/>
<circle cx="390.8" cy="257.8" r="1.55"/>
<circle cx="395.0" cy="259.5" r="1.55"/>
<circle cx="399.4" cy="258.8" r="1.55"/>
<circle cx="395.0" cy="266.5" r="1.55"/>
<circle cx="395.0" cy="294.9" r="1.55"/>
<line x1="418" y1="260.8" x2="441.4" y2="260.8" stroke="#222" stroke-width="1.2"/>
<circle cx="430.3" cy="230.8" r="1.55"/>
<circle cx="426.1" cy="241.0" r="1.55"/>
<circle cx="430.3" cy="241.7" r="1.55"/>
<circle cx="426.1" cy="244.4" r="1.55"/>
<circle cx="434.4" cy="245.1" r="1.55"/>
<circle cx="430.3" cy="247.9" r="1.55"/>
<circle cx="421.9" cy="250.3" r="1.55"/>
<circle cx="426.1" cy="251.0" r="1.55"/>
<circle cx="434.4" cy="251.0" r="1.55"/>
<circle cx="430.3" cy="253.8" r="1.55"/>
<circle cx="426.1" cy="261.4" r="1.55"/>
<circle cx="430.3" cy="262.8" r="1.55"/>
<circle cx="434.4" cy="261.8" r="1.55"/>
<circle cx="438.6" cy="260.8" r="1.55"/>
<circle cx="421.9" cy="264.9" r="1.55"/>
<circle cx="434.4" cy="265.7" r="1.55"/>
<circle cx="426.1" cy="267.3" r="1.55"/>
<circle cx="430.3" cy="269.3" r="1.55"/>
<circle cx="430.3" cy="274.8" r="1.55"/>
<circle cx="430.3" cy="295.5" r="1.55"/>
<circle cx="430.3" cy="309.2" r="1.55"/>
<line x1="453.5" y1="252.4" x2="477" y2="252.4" stroke="#222" stroke-width="1.2"/>
<circle cx="473.7" cy="240.7" r="1.55"/>
<circle cx="457.0" cy="242.2" r="1.55"/>
<circle cx="461.3" cy="242.6" r="1.55"/>
<circle cx="465.4" cy="243.2" r="1.55"/>
<circle cx="469.6" cy="242.4" r="1.55"/>
<circle cx="459.2" cy="245.2" r="1.55"/>
<circle cx="456.9" cy="247.3" r="1.55"/>
<circle cx="461.2" cy="247.3" r="1.55"/>
<circle cx="463.3" cy="246.9" r="1.55"/>
<circle cx="467.3" cy="246.9" r="1.55"/>
<circle cx="471.9" cy="246.9" r="1.55"/>
<circle cx="454.9" cy="249.2" r="1.55"/>
<circle cx="458.9" cy="249.4" r="1.55"/>
<circle cx="461.5" cy="248.8" r="1.55"/>
<circle cx="465.3" cy="249.3" r="1.55"/>
<circle cx="469.0" cy="248.9" r="1.55"/>
<circle cx="473.4" cy="249.2" r="1.55"/>
<circle cx="475.6" cy="249.9" r="1.55"/>
<circle cx="456.9" cy="251.9" r="1.55"/>
<circle cx="461.3" cy="251.6" r="1.55"/>
<circle cx="465.3" cy="251.6" r="1.55"/>
<circle cx="469.6" cy="251.4" r="1.55"/>
<circle cx="473.7" cy="251.6" r="1.55"/>
<circle cx="456.9" cy="253.7" r="1.55"/>
<circle cx="461.3" cy="253.6" r="1.55"/>
<circle cx="465.6" cy="253.6" r="1.55"/>
<circle cx="469.5" cy="253.6" r="1.55"/>
<circle cx="473.7" cy="254.1" r="1.55"/>
<circle cx="461.3" cy="255.9" r="1.55"/>
<circle cx="465.4" cy="257.6" r="1.55"/>
<circle cx="469.6" cy="257.4" r="1.55"/>
<circle cx="457.0" cy="261.5" r="1.55"/>
<circle cx="461.3" cy="260.0" r="1.55"/>
<circle cx="461.3" cy="261.7" r="1.55"/>
<circle cx="469.5" cy="261.3" r="1.55"/>
<circle cx="473.7" cy="261.3" r="1.55"/>
<circle cx="465.5" cy="263.7" r="1.55"/>
<circle cx="457.0" cy="265.1" r="1.55"/>
<circle cx="473.7" cy="265.2" r="1.55"/>
<circle cx="461.3" cy="267.4" r="1.55"/>
<circle cx="465.4" cy="268.8" r="1.55"/>
<circle cx="469.5" cy="268.2" r="1.55"/>
<circle cx="461.3" cy="273.3" r="1.55"/>
<circle cx="465.3" cy="276.7" r="1.55"/>
<circle cx="465.3" cy="319.7" r="1.55"/>
</svg>
</body></html>
